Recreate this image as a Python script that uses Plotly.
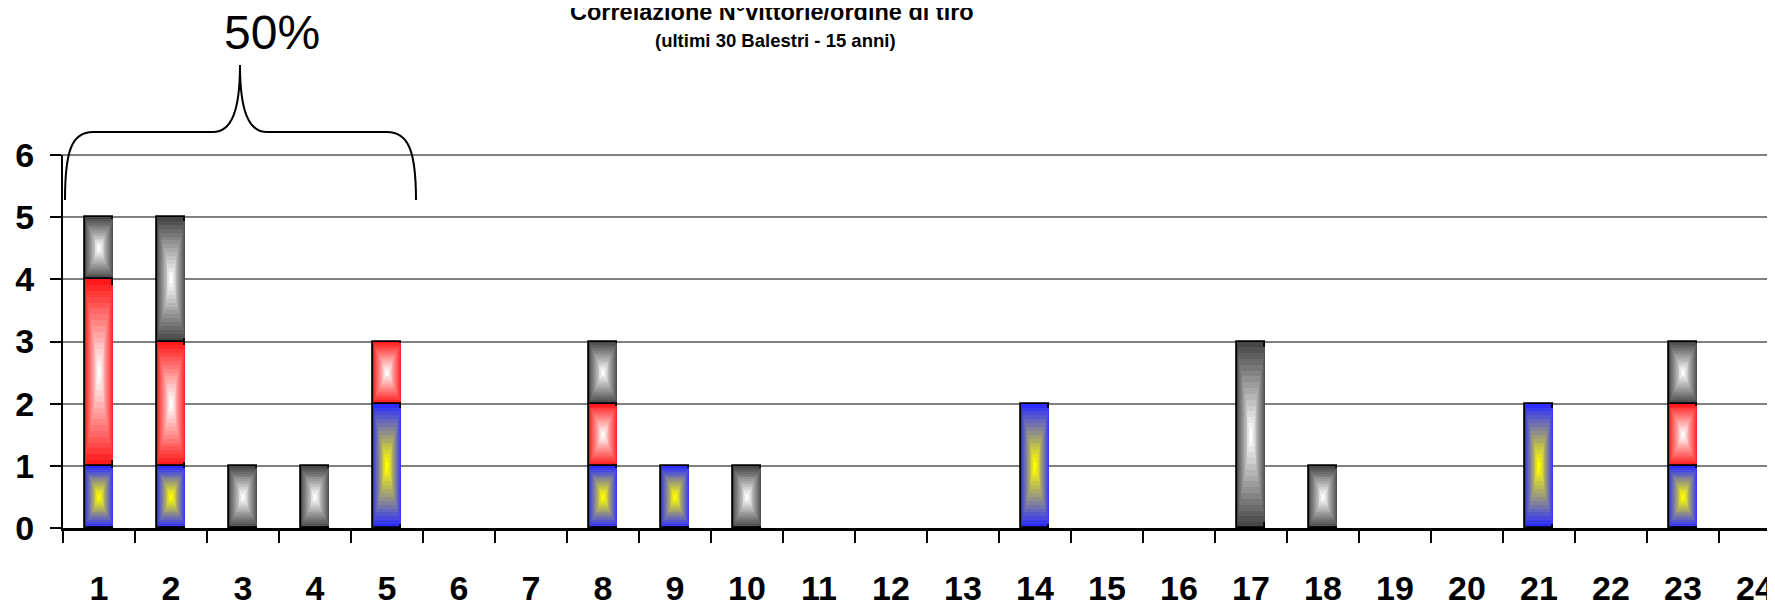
import plotly.graph_objects as go

# ---------------- data ----------------
categories = [str(i) for i in range(1, 25)]
blue_vals = [1, 1, 0, 0, 2, 0, 0, 1, 1, 0, 0, 0, 0, 2, 0, 0, 0, 0, 0, 0, 2, 0, 1, 0]
red_vals  = [3, 2, 0, 0, 1, 0, 0, 1, 0, 0, 0, 0, 0, 0, 0, 0, 0, 0, 0, 0, 0, 0, 1, 0]
gray_vals = [1, 2, 1, 1, 0, 0, 0, 1, 0, 1, 0, 0, 0, 0, 0, 0, 3, 1, 0, 0, 0, 0, 1, 0]
title_text = "Correlazione N°vittorie/ordine di tiro"
subtitle_text = "(ultimi 30 Balestri - 15 anni)"
brace_label = "50%"

# ---------------- layout geometry ----------------
OFF = 8  # page body margin
W, H = 1775, 600
L, R, T, B = 63 - OFF, OFF, 155 - OFF, 72 + OFF
PW, PH = W - L - R, H - T - B
PX_PER_X = 72.0
X_MIN = -0.5
X_MAX = X_MIN + PW / PX_PER_X
Y_MAX = 6
BAR_W = 0.4
N_LAYERS = 16


def P(px, py):
    """viewport pixel -> paper coords"""
    fx, fy = px - OFF, py - OFF
    return (fx - L) / PW, (H - B - fy) / PH


def mix(c1, c2, t):
    return "rgb(%d,%d,%d)" % tuple(round(a + (b - a) * t) for a, b in zip(c1, c2))


series = [
    (blue_vals, (45, 45, 255), (255, 255, 0)),
    (red_vals, (255, 25, 25), (255, 255, 255)),
    (gray_vals, (70, 70, 70), (255, 255, 255)),
]

fig = go.Figure()
bases = [0] * len(categories)
for vals, edge, center in series:
    for k in range(N_LAYERS):
        s = 1 - k / N_LAYERS
        t = k / (N_LAYERS - 1)
        ys, bs, ws = [], [], []
        for v, b in zip(vals, bases):
            if v > 0:
                ys.append(v * s)
                bs.append(b + v * (1 - s) / 2)
                ws.append(BAR_W * s)
            else:
                ys.append(None)
                bs.append(0)
                ws.append(BAR_W)
        fig.add_trace(go.Bar(
            x=categories, y=ys, base=bs, width=ws,
            marker=dict(color=mix(edge, center, t),
                        line=dict(color="black", width=1.8 if k == 0 else 0)),
            showlegend=False, hoverinfo="skip",
        ))
    bases = [b + v for b, v in zip(bases, vals)]

# top line at 6
x0, _ = P(52, 155)
fig.add_shape(type="line", xref="paper", yref="paper", x0=x0, x1=1, y0=1, y1=1,
              line=dict(color="black", width=1.2))

# curly brace
pts = {
    "a": P(65, 200), "c1": P(65, 150), "c2": P(72, 132), "b": P(93, 132),
    "c": P(213, 132), "c3": P(231, 132), "c4": P(240, 112), "apex": P(240, 65),
    "c5": P(240, 112), "c6": P(249, 132), "d": P(267, 132), "e": P(387, 132),
    "c7": P(408, 132), "c8": P(416, 150), "f": P(416, 200),
}
f = lambda p: "%.5f,%.5f" % p
path = ("M " + f(pts["a"]) + " C " + f(pts["c1"]) + " " + f(pts["c2"]) + " " + f(pts["b"]) +
        " L " + f(pts["c"]) + " C " + f(pts["c3"]) + " " + f(pts["c4"]) + " " + f(pts["apex"]) +
        " C " + f(pts["c5"]) + " " + f(pts["c6"]) + " " + f(pts["d"]) +
        " L " + f(pts["e"]) + " C " + f(pts["c7"]) + " " + f(pts["c8"]) + " " + f(pts["f"]))
fig.add_shape(type="path", xref="paper", yref="paper", path=path,
              line=dict(color="black", width=2))

sans = "Liberation Sans, Arial, sans-serif"
tx, ty = P(772, 12)
fig.add_annotation(text=title_text, xref="paper", yref="paper", x=tx, y=ty,
                   xanchor="center", yanchor="middle", showarrow=False,
                   font=dict(family=sans, size=23.5, color="black", weight="bold"))
sx, sy = P(775, 40)
fig.add_annotation(text=subtitle_text, xref="paper", yref="paper", x=sx, y=sy,
                   xanchor="center", yanchor="middle", showarrow=False,
                   font=dict(family=sans, size=18.5, color="black", weight="bold"))
lx, ly = P(272, 32)
fig.add_annotation(text=brace_label, xref="paper", yref="paper", x=lx, y=ly,
                   xanchor="center", yanchor="middle", showarrow=False,
                   font=dict(family=sans, size=48, color="black"))

tickfont = dict(family=sans, size=34, color="black", weight="bold")
fig.update_layout(
    width=W, height=H, barmode="overlay", bargap=0,
    margin=dict(l=L, r=R, t=T, b=B, pad=0),
    paper_bgcolor="white", plot_bgcolor="white",
    xaxis=dict(type="category", categoryorder="array", categoryarray=categories,
               range=[X_MIN, X_MAX], showline=True, linecolor="black", linewidth=2.5,
               ticks="outside", tickson="boundaries", ticklen=12, tickwidth=1.5,
               tickcolor="black", showgrid=False, tickfont=tickfont, ticklabelstandoff=28,
               automargin=False),
    yaxis=dict(range=[0, Y_MAX], dtick=1, showline=True, linecolor="black", linewidth=2,
               ticks="outside", ticklen=11, tickwidth=1.5, tickcolor="black",
               gridcolor="#808080", gridwidth=1.5, zeroline=False, tickfont=tickfont,
               ticklabelstandoff=9, automargin=False),
)

fig.write_html("out.html")
